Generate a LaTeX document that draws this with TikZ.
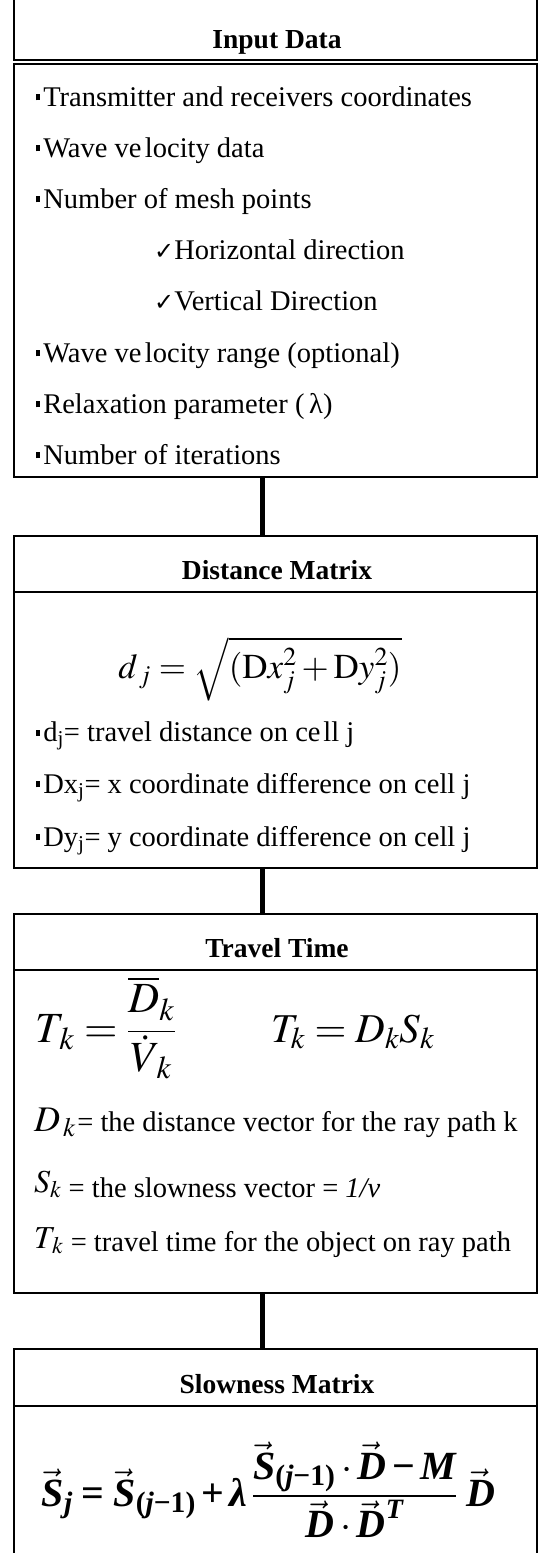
\documentclass[tikz,border=0pt]{standalone}
\usepackage{amsmath}
\usepackage{mathptmx}
\usepackage{fontspec}
\setmainfont{Liberation Serif}
\newfontfamily\djv{DejaVu Sans}
\newcommand{\bul}{\rule[0.2em]{0.15em}{0.22em}\hspace{0.1em}}
\newcommand{\chk}{{\djv\fontsize{24}{24}\selectfont ✓}}
\newcommand{\bit}[1]{\text{\bfseries\itshape #1}}
\newcommand{\bvS}{\vec{\bit{S}}}
\newcommand{\bvD}{\vec{\bit{D}}}
\newcommand{\sub}{\text{\bfseries(\itshape j\upshape−1)}}
\begin{document}
\begin{tikzpicture}[x=1pt,y=-1pt,
  box/.style={draw, line width=2pt, minimum width=523pt, anchor=north west, inner sep=0pt, outer sep=0pt},
  conn/.style={line width=5pt},
  ttl/.style={anchor=base, inner sep=0pt, font=\fontsize{27.5}{30}\selectfont\bfseries},
  txt/.style={anchor=base west, inner sep=0pt, font=\fontsize{28.5}{32}\selectfont},
  eq/.style={anchor=base, inner sep=0pt}]
\useasboundingbox (0,0) rectangle (538,1553);
\fill[white] (0,0) rectangle (538,1553);
% boxes
\node[box, minimum height=80pt] (inH) at (14,-20) {};
\node[box, minimum height=413pt] (inB) at (14,64) {};
\node[box, minimum height=56pt] (diH) at (14,536) {};
\node[box, minimum height=276pt] (diB) at (14,592) {};
\node[box, minimum height=56pt] (trH) at (14,914) {};
\node[box, minimum height=323pt] (trB) at (14,970) {};
\node[box, minimum height=57pt] (slH) at (14,1349) {};
\node[box, minimum height=220pt] (slB) at (14,1406) {};
% connectors
\draw[conn] ([xshift=-13.5pt]inB.south) -- ([xshift=-13.5pt]diH.north);
\draw[conn] ([xshift=-13.5pt]diB.south) -- ([xshift=-13.5pt]trH.north);
\draw[conn] ([xshift=-13.5pt]trB.south) -- ([xshift=-13.5pt]slH.north);
% titles
\node[ttl] (t1) at (277,48) {Input Data};
\node[ttl] (t2) at (277,579) {Distance Matrix};
\node[ttl] (t3) at (277,957.5) {Travel Time};
\node[ttl] (t4) at (277,1393.5) {Slowness Matrix};
% input data
\node[txt] (i1) at (36,106) {\bul Transmitter and receivers coordinates};
\node[txt] (i2) at (36,157) {\bul Wave ve\hspace{0.12em}locity data};
\node[txt] (i3) at (36,208) {\bul Number of mesh points};
\node[txt] (i4) at (154,259.5) {\chk Horizontal direction};
\node[txt] (i5) at (154,310.5) {\chk Vertical Direction};
\node[txt] (i6) at (36,362) {\bul Wave ve\hspace{0.12em}locity range (optional)};
\node[txt] (i7) at (36,413) {\bul Relaxation parameter (\,λ)};
\node[txt] (i8) at (36,464) {\bul Number of iterations};
% distance matrix
\node[eq, font=\fontsize{35}{38}\selectfont] (de) at (260,678)
  {$d_{\,j} = \sqrt{(\mathrm{D}x_j^2 + \mathrm{D}y_j^2)}$};
\node[txt] (d1) at (36,741.5) {\bul d\textsubscript{j}= travel distance on ce\hspace{0.1em}ll j};
\node[txt] (d2) at (36,793) {\bul Dx\textsubscript{j}= x coordinate difference on cell j};
\node[txt] (d3) at (36,846) {\bul Dy\textsubscript{j}= y coordinate difference on cell j};
% travel time
\node[eq, anchor=base west, font=\fontsize{43}{48}\selectfont] (te1) at (35,1042)
  {$T_{\,k} = \genfrac{}{}{1.2pt}{0}{\overline{D}_k}{\dot{V}_{\,k}}$};
\node[eq, anchor=base west, font=\fontsize{41}{48}\selectfont] (te2) at (271,1042)
  {$T_{k} = D_k S_{k}$};
\node[txt] (tr1) at (34,1131) {\fontsize{36}{40}\selectfont$D_{\,k}$\fontsize{28.5}{32}\selectfont\hspace{0.05em}= the distance vector for the ray path k};
\node[txt] (tr2) at (34,1197.5) {\raisebox{5pt}{\fontsize{32}{36}\selectfont$S_k$}\fontsize{28.5}{32}\selectfont\ = the slowness vector = \textit{1/v}};
\node[txt] (tr3) at (34,1251) {\raisebox{3pt}{\fontsize{32}{36}\selectfont$T_{\,k}$}\fontsize{28.5}{32}\selectfont\ = travel time for the object on ray path};
% slowness
\node[eq, font=\fontsize{40}{44}\selectfont] (se) at (268.5,1506)
  {$\bvS_{\bit{j}} \mathrel{\text{\bfseries =}} \bvS_{\sub} \mathbin{\text{\bfseries +}} \bit{λ}\,\genfrac{}{}{2.5pt}{1}{\displaystyle\bvS_{\sub}\cdot\bvD \mathbin{\text{\bfseries −}} \bit{M}}{\displaystyle\bvD\cdot\bvD^{\raisebox{-6pt}{\fontsize{28}{28}\selectfont\bfseries\itshape T}}}\,\,\bvD$};
\end{tikzpicture}
\end{document}
